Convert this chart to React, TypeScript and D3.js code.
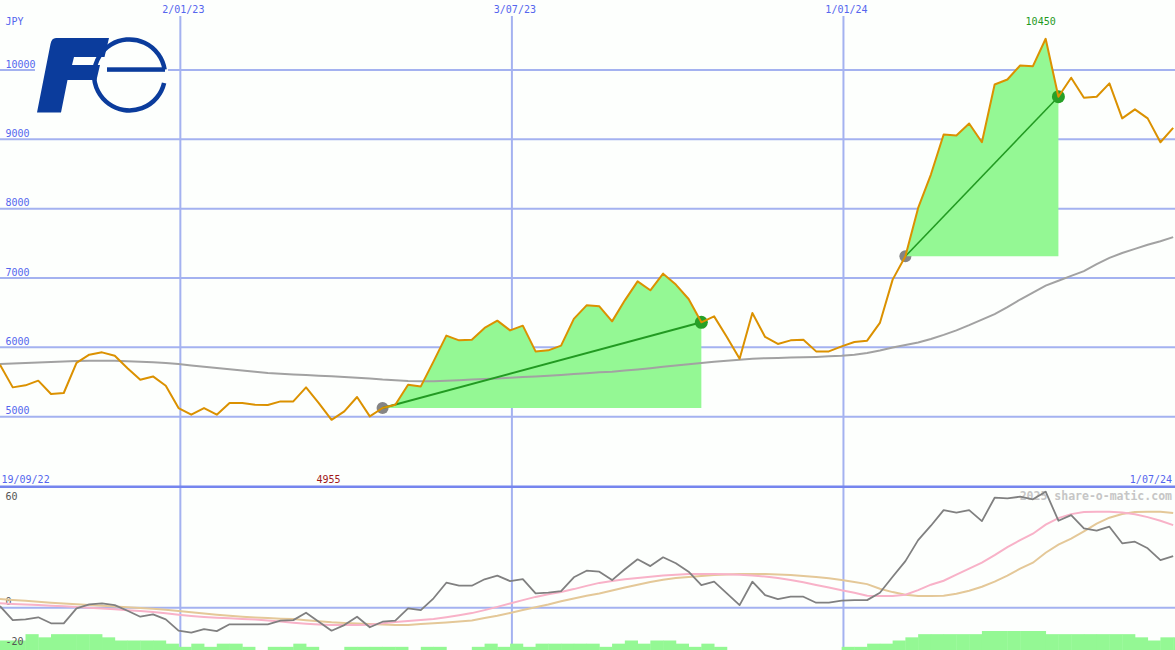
import React from 'react';
import * as d3 from 'd3';

const W = 1175;
const H = 650;

const startDate = new Date(2022, 8, 25);
const endDate = new Date(2024, 6, 1);

const priceValues = [5750,5423,5452,5520,5328,5342,5775,5895,5928,5880,5700,5534,5581,5447,5125,5029,5125,5029,5197,5197,5173,5168,5221,5221,5423,5197,4955,5076,5284,5005,5125,5173,5462,5437,5798,6169,6101,6111,6280,6385,6245,6313,5942,5957,6025,6410,6606,6592,6375,6678,6952,6823,7063,6905,6698,6361,6447,6150,5837,6496,6150,6049,6101,6111,5942,5942,6014,6077,6096,6352,6977,7313,8011,8492,9069,9055,9228,8958,9791,9863,10065,10055,10450,9615,9889,9600,9615,9807,9302,9432,9302,8958,9166];

const maValues = [5760,5768,5775,5783,5790,5797,5803,5807,5808,5806,5800,5792,5784,5775,5760,5740,5722,5703,5683,5665,5647,5630,5620,5610,5600,5592,5582,5572,5562,5550,5535,5525,5515,5510,5512,5518,5525,5535,5543,5552,5562,5572,5581,5591,5603,5615,5628,5640,5650,5665,5682,5700,5720,5738,5757,5775,5792,5808,5822,5837,5843,5847,5852,5857,5862,5870,5880,5895,5920,5955,5998,6035,6070,6120,6180,6245,6320,6400,6480,6580,6690,6790,6890,6960,7030,7100,7200,7290,7360,7420,7480,7530,7590];

const oscValues = [0.8,-6.2,-5.8,-4.8,-7.8,-7.8,-0.3,1.7,2.2,1.3,-1.5,-4.5,-3.3,-5.8,-11.5,-12.5,-10.7,-11.7,-8.3,-8.3,-8.3,-8.3,-6.5,-6.2,-2.5,-7,-11.5,-8.7,-4.5,-9.8,-7,-6.5,-0.3,-1.2,4.7,12.5,11,11,14.2,16,13.3,14.3,7.2,7.5,8.3,15.2,18.5,18,13.8,19.2,24.2,20.8,25.2,22.2,18,11.3,13,7.2,1.3,13,6.3,4.3,5.5,5.5,2.5,2.5,3.5,3.8,3.8,7.5,15.5,23.3,33.8,41,48.8,47.5,48.8,43.3,55,54.7,55.5,54.2,58,43.5,46.3,39.7,38.5,40.5,32.2,33,29.7,23.8,25.8];

const oscFast = [2.2,1.9,1.6,1.3,1.0,0.7,0.3,0,-0.4,-0.8,-1.3,-1.7,-2.2,-2.8,-3.5,-4.1,-4.6,-5.0,-5.3,-5.6,-5.9,-6.4,-6.9,-7.5,-8.0,-8.4,-8.7,-8.7,-8.7,-8.5,-7.8,-7.2,-6.7,-6.2,-5.7,-4.8,-3.8,-2.7,-1.2,0.4,2.1,3.8,5.4,6.7,7.9,9.3,10.9,12.4,13.3,14.2,14.9,15.5,16.1,16.5,16.8,16.8,16.8,16.7,16.5,16.1,15.6,14.8,13.8,12.7,11.4,10.1,8.7,7.5,6.0,5.8,5.8,6.5,8.8,11.5,13.5,16.5,19.5,22.5,26.3,30.3,33.8,37.0,41.5,44.8,46.8,47.9,48,48,47.6,46.7,45.3,43.5,41.3];

const oscSlow = [4.3,3.9,3.5,3.0,2.5,2.1,1.7,1.3,1.0,0.6,0.2,-0.2,-0.5,-1.0,-1.7,-2.3,-2.9,-3.5,-4.0,-4.5,-4.9,-5.2,-5.5,-5.7,-6.3,-6.8,-7.3,-7.6,-7.9,-8.2,-8.4,-8.6,-8.6,-8.2,-7.8,-7.4,-6.9,-6.4,-5.2,-4.0,-2.6,-1.2,0.2,1.6,3.2,4.6,6.0,7.1,8.6,10.1,11.5,12.8,14.0,14.8,15.4,15.9,16.3,16.6,16.8,16.8,16.8,16.6,16.3,15.9,15.3,14.7,13.9,12.9,11.8,9.5,7.8,6.5,5.8,5.8,6.0,7.0,8.5,10.5,13.0,16.0,19.5,22.5,27.5,31.5,34.5,38.2,42.0,45.0,46.8,47.8,48,48,47.3];

const barLevels = [3,3,5,4,5,5,5,5,4,3,3,3,3,2,1,2,1,2,2,1,0,1,1,2,1,0,0,1,1,1,1,1,0,1,1,0,0,1,2,1,2,1,2,2,2,2,2,1,2,3,2,3,3,2,1,2,1,0,0,0,0,0,0,0,0,0,1,1,2,2,3,4,5,5,5,5,5,6,6,6,6,6,5,5,5,5,5,5,5,4,3,4,4];

const gridDates = [new Date(2023, 0, 2), new Date(2023, 6, 3), new Date(2024, 0, 1)];
const gridLabels = ['2/01/23', '3/07/23', '1/01/24'];
const priceTicks = [5000, 6000, 7000, 8000, 9000, 10000];
const oscTicks = [60, 0, -20];
const trades = [
  { entry: 30, exit: 55, width: 2 },
  { entry: 71, exit: 83, width: 1.5 },
];
const highIndex = 82;
const lowIndex = 26;
const highLabel = '10450';
const lowLabel = '4955';
const firstLabel = '19/09/22';
const lastLabel = '1/07/24';
const currency = 'JPY';
const watermark = '2025 share-o-matic.com';

const dates = priceValues.map((_, i) => d3.timeDay.offset(startDate, 7 * i));

const FONT = '"DejaVu Sans Mono", monospace';
const BLUE_TXT = '#5566ee';
const GRID = '#a4b2f0';

export default function App() {
  const x = d3.scaleTime().domain([startDate, endDate]).range([0, W]);
  const y = d3.scaleLinear().domain([5000, 10000]).range([416.7, 70]);
  const oy = d3.scaleLinear().domain([-20, 60]).range([647.7, 487.7]);
  const by = d3.scaleLinear().domain([0, 6]).range([650, 631]);

  const xi = (i: number) => x(dates[i]);

  const priceLine = d3.line<number>().x((_, i) => xi(i)).y((d) => y(d));
  const oscLine = (arr: number[]) =>
    d3.line<number>().x((_, i) => xi(i)).y((d) => oy(d))(arr) || '';

  const step = xi(1) - xi(0);

  return (
    <svg
      width={W}
      height={H}
      style={{ position: 'absolute', left: 0, top: 0, background: '#fdfffd' }}
      fontFamily={FONT}
    >
      <rect x={0} y={0} width={W} height={H} fill="#fdfffd" />

      {/* horizontal price grid */}
      {priceTicks.map((t) => (
        <line key={t} x1={0} x2={W} y1={y(t)} y2={y(t)} stroke={GRID} strokeWidth={2} />
      ))}
      {/* vertical date grid */}
      {gridDates.map((d, k) => (
        <line key={k} x1={x(d)} x2={x(d)} y1={16} y2={H} stroke={GRID} strokeWidth={2} />
      ))}
      {/* oscillator zero line */}
      <line x1={0} x2={W} y1={oy(0)} y2={oy(0)} stroke={GRID} strokeWidth={2} />
      {/* separator */}
      <line x1={0} x2={W} y1={486.7} y2={486.7} stroke="#7585ee" strokeWidth={2.5} />

      {/* logo */}
      <rect x={35} y={33} width={133} height={84} fill="#fdfffd" />
      <path
        d="M 56 38 L 109 38 L 104.5 57 L 74 57 L 72 65 L 100 65 L 96.5 80 L 67.5 80 L 61 112.5 L 37 112.5 L 50.5 44 Q 51.5 38 56 38 Z"
        fill="#0b3c9c"
      />
      <path d="M 164.6 69.5 A 35.5 35.5 0 1 0 164.1 83" fill="none" stroke="#0b3c9c" strokeWidth={4.5} />
      <rect x={107} y={67.3} width={58} height={4.5} fill="#0b3c9c" />

      {/* price labels */}
      <text x={5.5} y={24.5} fontSize={10} fill={BLUE_TXT}>{currency}</text>
      {priceTicks.map((t) => (
        <text key={t} x={5.5} y={y(t) - 2.5} fontSize={10} fill={BLUE_TXT}>{t}</text>
      ))}
      {gridDates.map((d, k) => (
        <text key={k} x={x(d) + 3} y={12.5} fontSize={10} fill={BLUE_TXT} textAnchor="middle">
          {gridLabels[k]}
        </text>
      ))}

      {/* entry markers under fills */}
      {trades.map((t, k) => (
        <circle key={k} cx={xi(t.entry)} cy={y(priceValues[t.entry])} r={6} fill="#858585" />
      ))}

      {/* trade fills */}
      {trades.map((t, k) => {
        const idx = d3.range(t.entry, t.exit + 1);
        const base = y(priceValues[t.entry]);
        const area = d3
          .area<number>()
          .x((i) => xi(i))
          .y0(base)
          .y1((i) => y(priceValues[i]));
        return <path key={k} d={area(idx) || ''} fill="#94f894" />;
      })}

      {/* moving average */}
      <path d={priceLine(maValues) || ''} fill="none" stroke="#a2a2a2" strokeWidth={2} />

      {/* trend lines */}
      {trades.map((t, k) => (
        <line
          key={k}
          x1={xi(t.entry)}
          y1={y(priceValues[t.entry])}
          x2={xi(t.exit)}
          y2={y(priceValues[t.exit])}
          stroke="#229a22"
          strokeWidth={t.width}
        />
      ))}

      {/* exit markers */}
      {trades.map((t, k) => (
        <circle key={k} cx={xi(t.exit)} cy={y(priceValues[t.exit])} r={6.5} fill="#27a027" />
      ))}

      {/* price */}
      <path
        d={priceLine(priceValues) || ''}
        fill="none"
        stroke="#db9100"
        strokeWidth={2}
        strokeLinejoin="round"
      />

      <text x={xi(highIndex) - 5} y={24.5} fontSize={10} fill="#1f9a1f" textAnchor="middle">
        {highLabel}
      </text>

      {/* date row */}
      <text x={1.5} y={482.5} fontSize={10} fill={BLUE_TXT}>{firstLabel}</text>
      <text x={xi(lowIndex) - 3} y={482.5} fontSize={10} fill="#a01818" textAnchor="middle">
        {lowLabel}
      </text>
      <text x={1172} y={482.5} fontSize={10} fill={BLUE_TXT} textAnchor="end">{lastLabel}</text>

      {/* bottom panel */}
      {barLevels.map((v, i) =>
        v > 0 ? (
          <rect
            key={i}
            x={xi(i)}
            y={by(v)}
            width={step + 0.4}
            height={H - by(v)}
            fill="#94f894"
          />
        ) : null
      )}
      <text x={1172} y={500} fontSize={11.5} fontWeight="bold" fill="#c6c6c6" textAnchor="end">
        {watermark}
      </text>
      {oscTicks.map((t) => (
        <text key={t} x={5.5} y={t === 60 ? oy(t) + 11.8 : oy(t) - 2.7} fontSize={10} fill="#555">
          {t}
        </text>
      ))}
      <path d={oscLine(oscSlow)} fill="none" stroke="#e4c898" strokeWidth={2} />
      <path d={oscLine(oscFast)} fill="none" stroke="#f8b2c8" strokeWidth={2} />
      <path d={oscLine(oscValues)} fill="none" stroke="#808080" strokeWidth={1.8} strokeLinejoin="round" />
    </svg>
  );
}
